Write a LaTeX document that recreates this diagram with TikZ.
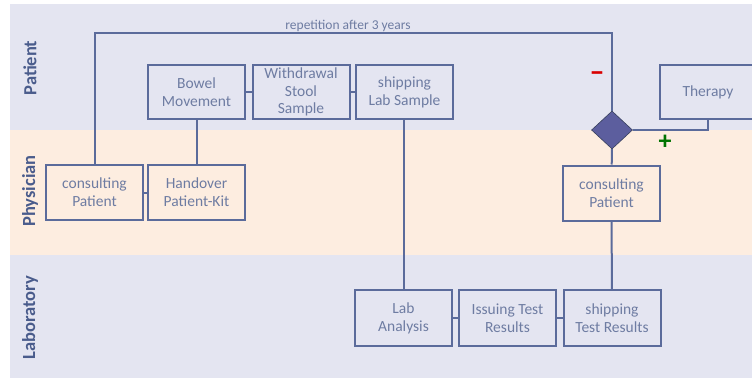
\documentclass[tikz,border=0pt]{standalone}
\usepackage{fontspec}
\setmainfont{Carlito}
\usetikzlibrary{positioning,shapes.geometric}
\definecolor{lanepat}{HTML}{E4E5F1}
\definecolor{lanephy}{HTML}{FDEDE0}
\definecolor{flowline}{HTML}{5B6B9B}
\definecolor{flowtext}{HTML}{6E7CA2}
\definecolor{lanetext}{HTML}{4A5C8C}
\definecolor{gateway}{HTML}{5C5E9E}
\tikzset{
	flow/.style={x=1pt,y=-1pt},
	task/.style={rectangle,draw=flowline,line width=2pt,minimum width=97pt,
		minimum height=54pt,align=center,text=flowtext,inner sep=0pt,
		font=\fontsize{15.5}{18}\selectfont},
	gate/.style={diamond,draw=flowline!60!black,fill=gateway,line width=0.6pt,
		minimum width=41pt,minimum height=38pt,inner sep=0pt},
	lane/.style={rotate=90,text=lanetext,font=\fontsize{18.5}{20}\selectfont\bfseries},
	link/.style={draw=flowline,line width=2pt}
}

\begin{document}
\begin{tikzpicture}[flow]
\useasboundingbox (0,0) rectangle (752,380);
\clip (0,0) rectangle (752,380);

% lanes
\fill[lanepat] (10,4) rectangle (752,130);
\fill[lanephy] (10,130) rectangle (752,255);
\fill[lanepat] (10,255) rectangle (752,378);

\node[lane] (lpat) at (30,68) {Patient};
\node[lane] (lphy) at (30,191) {Physician};
\node[lane] (llab) at (30,318) {Laboratory};

% tasks
\node[task] (bowel) at (196.5,92) {Bowel\\Movement};
\node[task,font=\fontsize{15.5}{17.5}\selectfont] (stool) at (301,92) {Withdrawal\\Stool\\Sample};
\node[task] (shiplab) at (404.5,92) {shipping\\Lab Sample};
\node[task] (therapy) at (708,92) {Therapy};
\node[task,minimum height=55pt] (consa) at (94.5,192.5) {consulting\\Patient};
\node[task,minimum height=55pt] (handover) at (196.5,192.5) {Handover\\Patient-Kit};
\node[task,minimum height=55pt] (consb) at (611.5,193) {consulting\\Patient};
\node[task,minimum height=56pt] (analysis) at (403.5,318) {Lab\\Analysis};
\node[task,minimum height=56pt] (issue) at (507.5,318) {Issuing Test\\Results};
\node[task,minimum height=56pt] (shiptest) at (612,318) {shipping\\Test Results};
\node[gate] (gate) at (612,130) {};

\coordinate (top) at (0,33);

\path[link] (bowel) -- (stool);
\path[link] (stool) -- (shiplab);
\path[link] (consa) -- (handover);
\path[link] (analysis) -- (issue);
\path[link] (issue) -- (shiptest);
\path[link] (bowel) -- (handover);
\path[link] (shiplab.south -| analysis) -- (analysis);
\path[link] (gate) -- (consb);
\path[link] (consb) -- (shiptest);
\path[link] (gate.east) -| (therapy.south);
\path[link] (consa.north) -- (consa.north |- top) -- (gate.north |- top) -- (gate.north);

\node[text=flowtext,font=\fontsize{13.5}{15}\selectfont,anchor=south,inner sep=1.5pt] (rep) at (348,33) {repetition after 3 years};
\node[text=red!85!black,font=\fontsize{30}{30}\selectfont\bfseries] (neg) at (597,77) {\textendash};
\node[text=green!45!black,font=\fontsize{26}{26}\selectfont\bfseries] (pos) at (665,142) {+};
\end{tikzpicture}
\end{document}
